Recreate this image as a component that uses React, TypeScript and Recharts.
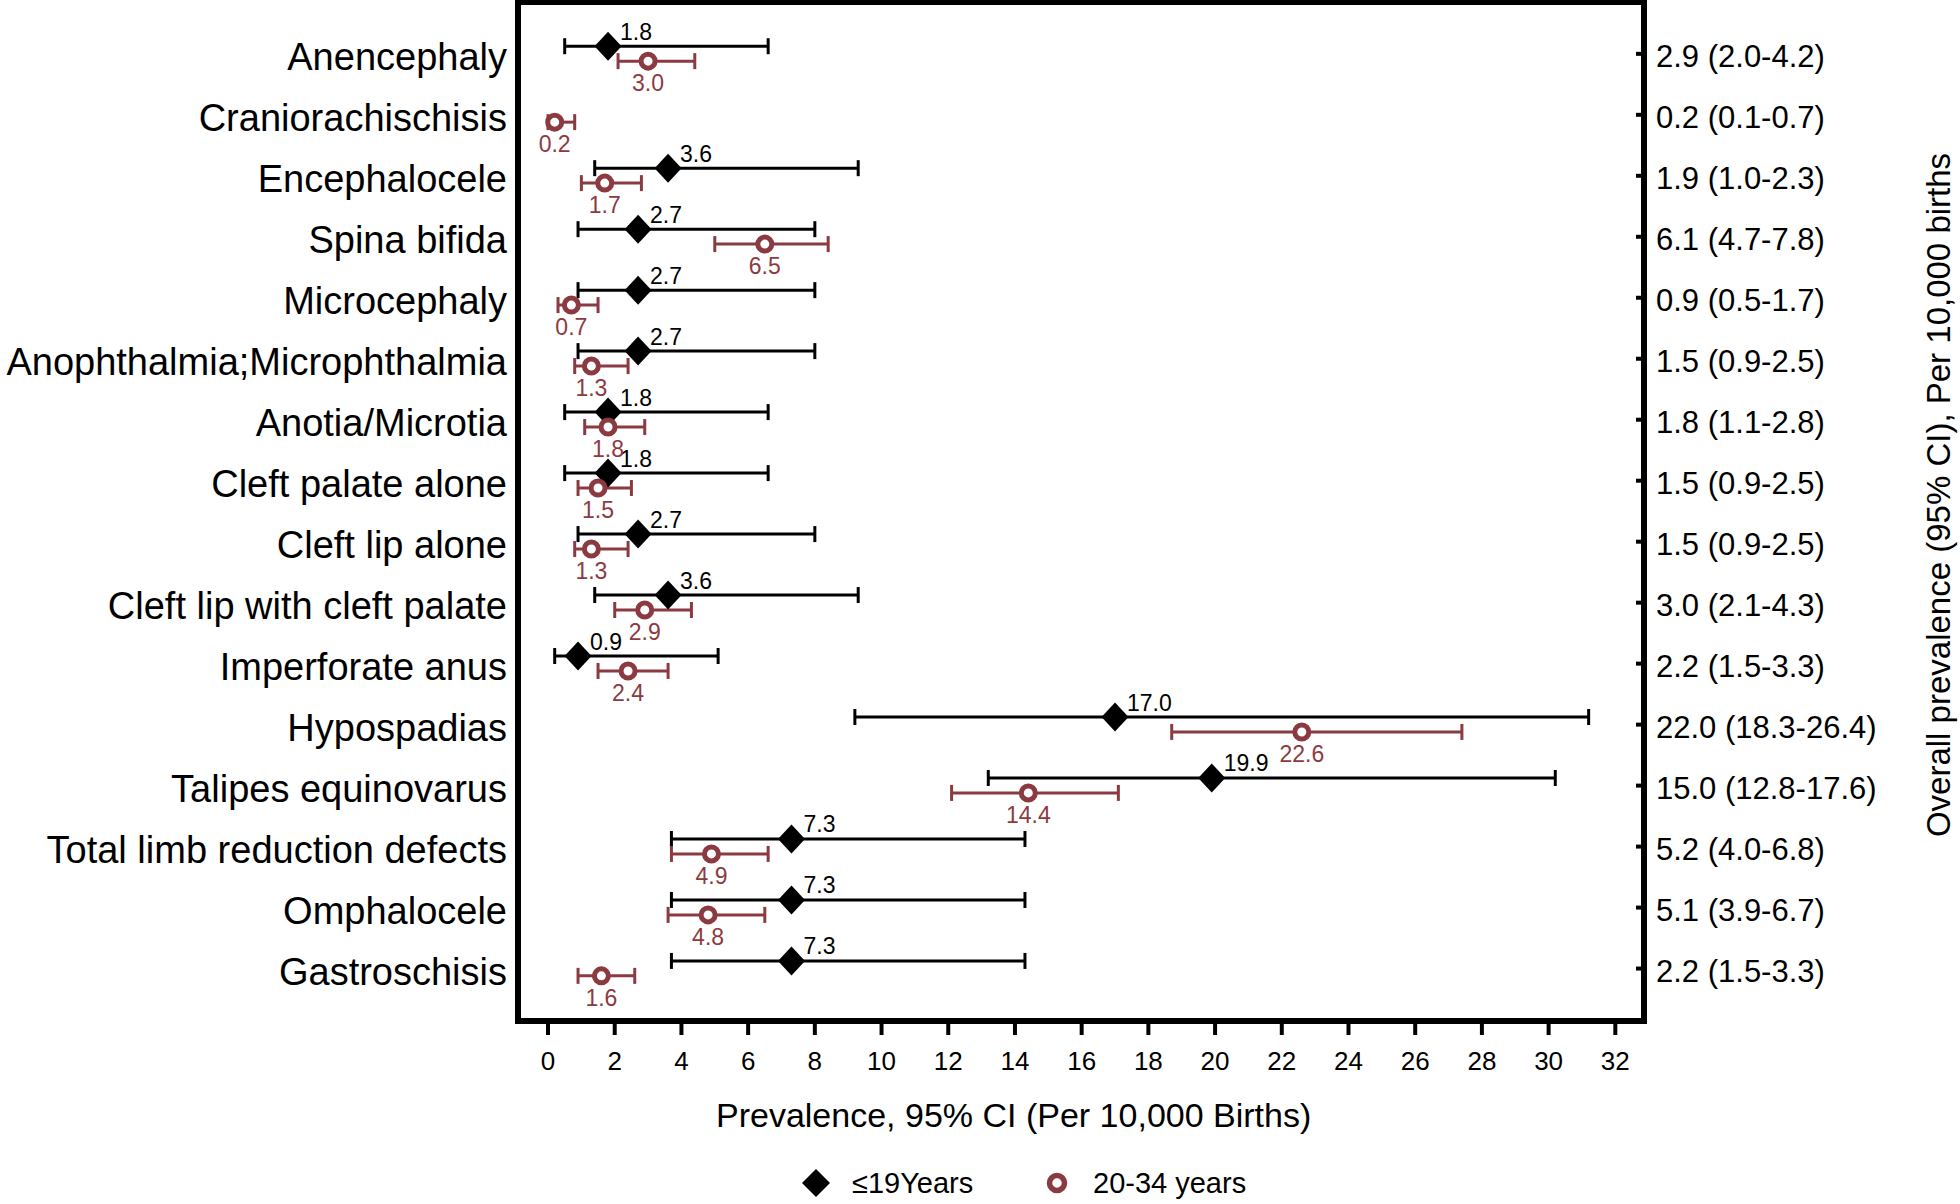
import React from 'react'
import { ScatterChart, Scatter, XAxis, YAxis, ErrorBar, ReferenceArea } from 'recharts'

const FONT = '"Liberation Sans", Arial, Helvetica, sans-serif'
const RED = '#8c3a42'

const categories = [
  'Anencephaly', 'Craniorachischisis', 'Encephalocele', 'Spina bifida', 'Microcephaly',
  'Anophthalmia;Microphthalmia', 'Anotia/Microtia', 'Cleft palate alone', 'Cleft lip alone',
  'Cleft lip with cleft palate', 'Imperforate anus', 'Hypospadias', 'Talipes equinovarus',
  'Total limb reduction defects', 'Omphalocele', 'Gastroschisis',
]

// ≤19 years (null = not reported)
const youngEst = [1.8, null, 3.6, 2.7, 2.7, 2.7, 1.8, 1.8, 2.7, 3.6, 0.9, 17.0, 19.9, 7.3, 7.3, 7.3]
const youngLow = [0.5, null, 1.4, 0.9, 0.9, 0.9, 0.5, 0.5, 0.9, 1.4, 0.2, 9.2, 13.2, 3.7, 3.7, 3.7]
const youngHigh = [6.6, null, 9.3, 8.0, 8.0, 8.0, 6.6, 6.6, 8.0, 9.3, 5.1, 31.2, 30.2, 14.3, 14.3, 14.3]

// 20-34 years
const adultEst = [3.0, 0.2, 1.7, 6.5, 0.7, 1.3, 1.8, 1.5, 1.3, 2.9, 2.4, 22.6, 14.4, 4.9, 4.8, 1.6]
const adultLow = [2.1, 0.0, 1.0, 5.0, 0.3, 0.8, 1.1, 0.9, 0.8, 2.0, 1.5, 18.7, 12.1, 3.7, 3.6, 0.9]
const adultHigh = [4.4, 0.8, 2.8, 8.4, 1.5, 2.4, 2.9, 2.5, 2.4, 4.3, 3.6, 27.4, 17.1, 6.6, 6.5, 2.6]

const overall = [
  '2.9 (2.0-4.2)', '0.2 (0.1-0.7)', '1.9 (1.0-2.3)', '6.1 (4.7-7.8)', '0.9 (0.5-1.7)',
  '1.5 (0.9-2.5)', '1.8 (1.1-2.8)', '1.5 (0.9-2.5)', '1.5 (0.9-2.5)', '3.0 (2.1-4.3)',
  '2.2 (1.5-3.3)', '22.0 (18.3-26.4)', '15.0 (12.8-17.6)', '5.2 (4.0-6.8)', '5.1 (3.9-6.7)',
  '2.2 (1.5-3.3)',
]

const xTicks = [0, 2, 4, 6, 8, 10, 12, 14, 16, 18, 20, 22, 24, 26, 28, 30, 32]
const rowTicks = categories.map((_, i) => i)

const X_MIN = -0.9
const X_MAX = 32.86
const Y_MIN = -0.85
const Y_MAX = 15.86
const YOUNG_SHIFT = -0.125
const ADULT_SHIFT = 0.12

function buildSeries(est, low, high, shift) {
  const out = []
  est.forEach((v, i) => {
    if (v == null) return
    out.push({ row: i + shift, value: v, err: [v - low[i], high[i] - v] })
  })
  return out
}

const youngData = buildSeries(youngEst, youngLow, youngHigh, YOUNG_SHIFT)
const adultData = buildSeries(adultEst, adultLow, adultHigh, ADULT_SHIFT)

const Diamond = (props) => {
  const { cx, cy, payload } = props
  return (
    <g>
      <polygon
        points={`${cx},${cy - 14.5} ${cx + 13.5},${cy} ${cx},${cy + 14.5} ${cx - 13.5},${cy}`}
        fill="#000"
      />
      <text x={cx + 12} y={cy - 6.5} fontSize={23} fontFamily={FONT} fill="#000">
        {payload.value.toFixed(1)}
      </text>
    </g>
  )
}

const Ring = (props) => {
  const { cx, cy, payload } = props
  return (
    <g>
      <circle cx={cx} cy={cy} r={7} fill="#fff" stroke={RED} strokeWidth={5} />
      <text x={cx} y={cy + 30} textAnchor="middle" fontSize={23} fontFamily={FONT} fill={RED}>
        {payload.value.toFixed(1)}
      </text>
    </g>
  )
}

const XTick = ({ x, y, payload }) => (
  <g>
    <line x1={x} x2={x} y1={y + 3} y2={y + 14} stroke="#000" strokeWidth={4} />
    <text x={x} y={y + 49} textAnchor="middle" fontSize={26} fontFamily={FONT} fill="#000">
      {payload.value}
    </text>
  </g>
)

const LeftTick = ({ x, y, payload }) => (
  <text x={x} y={y} dy="0.42em" textAnchor="end" fontSize={38} fontFamily={FONT} fill="#000">
    {categories[payload.value]}
  </text>
)

const RightTick = ({ x, y, payload }) => (
  <g>
    <line x1={x - 8} x2={x} y1={y} y2={y} stroke="#000" strokeWidth={4} />
    <text x={x + 12} y={y} dy="0.43em" fontSize={31} fontFamily={FONT} fill="#000">
      {overall[payload.value]}
    </text>
  </g>
)

const XTitle = ({ viewBox }) => (
  <text x={viewBox.x + 198} y={viewBox.y + 106} fontSize={34} fontFamily={FONT} fill="#000">
    Prevalence, 95% CI (Per 10,000 Births)
  </text>
)

const RightTitle = ({ viewBox }) => {
  const x = viewBox.x + 306
  const y = 495
  return (
    <text
      x={x}
      y={y}
      textAnchor="middle"
      fontSize={33}
      fontFamily={FONT}
      fill="#000"
      transform={`rotate(-90 ${x} ${y})`}
    >
      Overall prevalence (95% CI), Per 10,000 births
    </text>
  )
}

export default function App() {
  return (
    <div style={{ position: 'absolute', left: 0, top: 0, width: 1960, height: 1204, background: '#fff' }}>
      <ScatterChart width={1960} height={1204} margin={{ top: 2, right: 0, bottom: 0, left: 0 }}>
        <XAxis
          type="number"
          dataKey="value"
          domain={[X_MIN, X_MAX]}
          allowDataOverflow
          ticks={xTicks}
          interval={0}
          height={183}
          axisLine={false}
          tickLine={false}
          tickSize={0}
          tickMargin={0}
          tick={<XTick />}
          label={<XTitle />}
        />
        <YAxis
          yAxisId="left"
          type="number"
          dataKey="row"
          domain={[Y_MIN, Y_MAX]}
          allowDataOverflow
          reversed
          ticks={rowTicks}
          interval={0}
          width={518}
          axisLine={false}
          tickLine={false}
          tickSize={0}
          tickMargin={11}
          tick={<LeftTick />}
        />
        <YAxis
          yAxisId="right"
          orientation="right"
          type="number"
          dataKey="row"
          domain={[Y_MIN, Y_MAX]}
          allowDataOverflow
          reversed
          ticks={rowTicks}
          interval={0}
          width={316}
          axisLine={false}
          tickLine={false}
          tickSize={0}
          tickMargin={0}
          tick={<RightTick />}
          label={<RightTitle />}
        />
        <ReferenceArea
          yAxisId="left"
          x1={X_MIN}
          x2={X_MAX}
          y1={Y_MIN}
          y2={Y_MAX}
          fill="none"
          stroke="#000"
          strokeWidth={6}
          ifOverflow="visible"
        />
        <Scatter
          yAxisId="left"
          name="≤19Years"
          data={youngData}
          shape={(p) => <Diamond {...p} />}
          isAnimationActive={false}
        >
          <ErrorBar dataKey="err" direction="x" width={8} stroke="#000" strokeWidth={3} isAnimationActive={false} />
        </Scatter>
        <Scatter
          yAxisId="left"
          name="20-34 years"
          data={adultData}
          shape={(p) => <Ring {...p} />}
          isAnimationActive={false}
        >
          <ErrorBar dataKey="err" direction="x" width={8} stroke={RED} strokeWidth={3} isAnimationActive={false} />
        </Scatter>
      </ScatterChart>

      {/* legend */}
      <div
        style={{
          position: 'absolute', left: 0, top: 1169, width: 1960, height: 28,
          fontFamily: FONT, fontSize: 29, color: '#000',
        }}
      >
        <svg style={{ position: 'absolute', left: 802, top: 0 }} width={28} height={28}>
          <polygon points="14,0 28,14 14,28 0,14" fill="#000" />
        </svg>
        <span style={{ position: 'absolute', left: 852, top: 0, lineHeight: '28px', whiteSpace: 'nowrap' }}>≤19Years</span>
        <svg style={{ position: 'absolute', left: 1046, top: 3 }} width={22} height={22}>
          <circle cx={11} cy={11} r={7.5} fill="#fff" stroke={RED} strokeWidth={5.5} />
        </svg>
        <span style={{ position: 'absolute', left: 1093, top: 0, lineHeight: '28px', whiteSpace: 'nowrap' }}>20-34 years</span>
      </div>
    </div>
  )
}
